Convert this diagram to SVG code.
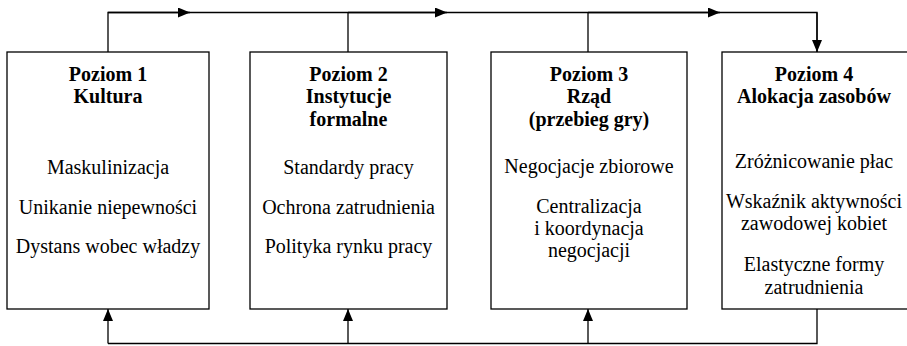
<svg xmlns="http://www.w3.org/2000/svg" width="907" height="346" viewBox="0 0 907 346">
<defs>
<style>
.box{fill:#fff;stroke:#000;stroke-width:1.3}
.ln{fill:none;stroke:#000;stroke-width:1.3}
.tx{font-family:'Liberation Serif','Times New Roman',serif;font-size:20px;fill:#000;text-anchor:middle}
.t{font-weight:bold}
</style>
<marker id="ah" viewBox="0 0 12 10" refX="12" refY="5" markerWidth="12" markerHeight="10" markerUnits="userSpaceOnUse" orient="auto">
<path d="M0,0 L12,5 L0,10 Z" fill="#000"/>
</marker>
</defs>
<g id="connectors">
<path class="ln" d="M108,52 V12.5 H817 V52"/>
<path class="ln" d="M108,12.5 H190" marker-end="url(#ah)"/>
<path class="ln" d="M348,12.5 H447" marker-end="url(#ah)"/>
<path class="ln" d="M348,52 V12.5"/>
<path class="ln" d="M588,52 V12.5"/>
<path class="ln" d="M588,12.5 H720" marker-end="url(#ah)"/>
<path class="ln" d="M817,12.5 V52" marker-end="url(#ah)"/>
<path class="ln" d="M817,309 V343.5 H108"/>
<path class="ln" d="M108,343.5 V309" marker-end="url(#ah)"/>
<path class="ln" d="M348,343.5 V309" marker-end="url(#ah)"/>
<path class="ln" d="M588,343.5 V309" marker-end="url(#ah)"/>
</g>
<g id="poziom1" class="tx">
<rect class="box" x="7" y="52" width="202" height="257"/>
<text class="t" x="108" y="81">Poziom 1</text>
<text class="t" x="108" y="103">Kultura</text>
<text x="108" y="174">Maskulinizacja</text>
<text x="108" y="214">Unikanie niepewności</text>
<text x="108" y="253">Dystans wobec władzy</text>
</g>
<g id="poziom2" class="tx">
<rect class="box" x="250" y="52" width="197" height="257"/>
<text class="t" x="348.5" y="81">Poziom 2</text>
<text class="t" x="348.5" y="103">Instytucje</text>
<text class="t" x="348.5" y="126">formalne</text>
<text x="348.5" y="174">Standardy pracy</text>
<text x="348.5" y="214">Ochrona zatrudnienia</text>
<text x="348.5" y="253">Polityka rynku pracy</text>
</g>
<g id="poziom3" class="tx">
<rect class="box" x="491" y="52" width="196" height="257"/>
<text class="t" x="589" y="81">Poziom 3</text>
<text class="t" x="589" y="103">Rząd</text>
<text class="t" x="589" y="126">(przebieg gry)</text>
<text x="589" y="173">Negocjacje zbiorowe</text>
<text x="589" y="213">Centralizacja</text>
<text x="589" y="235">i koordynacja</text>
<text x="589" y="257">negocjacji</text>
</g>
<g id="poziom4" class="tx">
<rect class="box" x="722" y="52" width="190" height="257"/>
<text class="t" x="814" y="81">Poziom 4</text>
<text class="t" x="814" y="103">Alokacja zasobów</text>
<text x="814" y="168">Zróżnicowanie płac</text>
<text x="814" y="208">Wskaźnik aktywności</text>
<text x="814" y="230">zawodowej kobiet</text>
<text x="814" y="271">Elastyczne formy</text>
<text x="814" y="294">zatrudnienia</text>
</g>
</svg>
